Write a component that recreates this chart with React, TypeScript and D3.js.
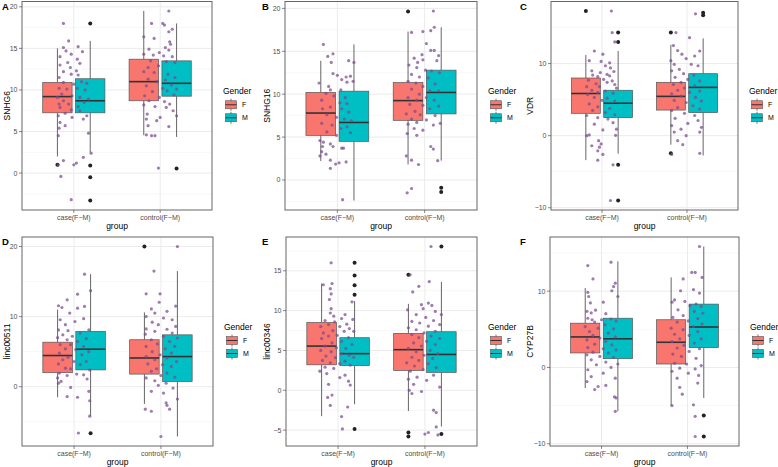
import React from "react";
import * as d3 from "d3";

const groups = ["case(F−M)", "control(F−M)"];
const genders = ["F", "M"];
const genderColors = ["#F8766D", "#00BFC4"];
const geneNames = ["SNHG6", "SNHG16", "VDR", "linc00511", "linc00346", "CYP27B"];
const panelLetters = ["A", "B", "C", "D", "E", "F"];

// major y ticks for each panel
const snhg6Ticks = [0, 5, 10, 15, 20];
const snhg16Ticks = [0, 5, 10, 15, 20];
const vdrTicks = [-10, 0, 10];
const linc00511Ticks = [0, 10, 20];
const linc00346Ticks = [-5, 0, 5, 10, 15];
const cyp27bTicks = [-10, 0, 10];

// boxes: [group, gender, lowerWhisker, q1, median, q3, upperWhisker]
const snhg6Boxes = [[0, 0, 2.0, 7.25, 9.2, 10.9, 15.0], [0, 1, 2.5, 7.25, 8.7, 11.35, 15.9], [1, 0, 4.55, 8.7, 11.0, 13.7, 19.5], [1, 1, 4.35, 9.25, 10.8, 13.5, 18.0]];
const snhg16Boxes = [[0, 0, 2.2, 5.2, 7.8, 10.2, 13.9], [0, 1, -2.4, 4.5, 6.7, 10.35, 15.8], [1, 0, 1.8, 6.95, 9.25, 11.35, 17.3], [1, 1, 2.25, 7.7, 10.2, 12.8, 17.8]];
const vdrBoxes = [[0, 0, -3.4, 3.1, 5.85, 8.0, 11.2], [0, 1, -2.5, 2.5, 4.5, 6.3, 11.75], [1, 0, -1.25, 3.55, 5.45, 7.4, 12.6], [1, 1, -2.75, 3.2, 6.7, 8.6, 13.5]];
const linc00511Boxes = [[0, 0, -1.5, 2.0, 4.45, 6.35, 11.0], [0, 1, -4.2, 2.4, 5.35, 7.9, 16.05], [1, 0, -2.45, 1.8, 4.1, 6.7, 10.6], [1, 1, -7.1, 0.75, 4.3, 7.4, 16.5]];
const linc00346Boxes = [[0, 0, -3.25, 3.2, 5.55, 8.5, 13.4], [0, 1, -1.75, 3.1, 4.6, 6.6, 11.2], [1, 0, -2.6, 2.5, 5.1, 7.15, 10.85], [1, 1, -4.55, 2.25, 4.5, 7.35, 13.6]];
const cyp27bBoxes = [[0, 0, -2.7, 1.9, 4.0, 5.8, 10.4], [0, 1, -5.75, 1.15, 3.75, 6.45, 13.9], [1, 0, -5.0, 0.45, 3.3, 6.25, 11.8], [1, 1, -4.0, 2.6, 5.3, 8.3, 15.85]];

// outliers: [group, gender, value]
const snhg6Outliers = [[0, 0, 1.0], [0, 1, 18.0], [0, 1, 0.9], [0, 1, -0.5], [0, 1, -3.3], [1, 1, 0.55]];
const snhg16Outliers = [[1, 0, 19.65], [1, 1, -0.9], [1, 1, -1.4]];
const vdrOutliers = [[0, 0, 17.3], [0, 1, 14.3], [0, 1, 13.0], [0, 1, -4.05], [0, 1, -9.0], [1, 0, 14.3], [1, 0, -2.45], [1, 1, 17.05], [1, 1, 16.7]];
const linc00511Outliers = [[0, 1, -6.65], [1, 0, 20.0]];
const linc00346Outliers = [[0, 1, 16.0], [0, 1, 14.4], [0, 1, 13.2], [0, 1, 12.0], [0, 1, -4.85], [1, 0, 14.5], [1, 0, -5.3], [1, 0, -5.8], [1, 1, 18.05], [1, 1, -5.5]];
const cyp27bOutliers = [[1, 1, -6.3], [1, 1, -9.05]];

// jittered points: [jitter offset (category units), value]
const snhg6CasePts = [[-0.12, 18.0], [-0.06, 15.9], [-0.12, 15.1], [0.05, 15.2], [-0.09, 14.7], [0.10, 14.6], [-0.03, 14.3], [-0.16, 14.0], [0.04, 13.7], [-0.07, 13.3], [0.07, 13.2], [-0.16, 13.0], [-0.04, 12.7], [0.03, 12.3], [-0.12, 12.2], [-0.03, 11.9], [0.05, 11.8], [-0.17, 11.5], [0.09, 11.0], [-0.12, 10.9], [0.0, 10.7], [0.15, 10.8], [-0.17, 10.2], [-0.08, 10.1], [0.04, 10.2], [0.13, 10.0], [-0.14, 9.5], [-0.19, 9.1], [-0.02, 9.3], [0.07, 9.1], [0.17, 8.9], [-0.12, 8.7], [-0.17, 8.3], [-0.06, 8.3], [0.12, 8.5], [0.05, 8.0], [-0.16, 7.9], [-0.03, 7.6], [-0.10, 7.2], [0.07, 7.5], [-0.18, 6.9], [0.15, 6.9], [-0.02, 6.7], [0.11, 6.5], [-0.16, 6.1], [-0.10, 5.7], [-0.17, 5.4], [-0.18, 4.5], [0.17, 4.8], [0.11, 1.9], [-0.12, 1.5], [0.03, 1.2], [-0.18, 1.0], [0.0, 1.0], [-0.15, -0.4], [-0.03, -3.2], [0.2, 2.4]];
const snhg6ControlPts = [[0.10, 19.5], [-0.10, 18.0], [0.03, 18.0], [0.05, 17.8], [0.14, 17.3], [0.10, 17.0], [-0.19, 16.4], [-0.07, 16.2], [0.11, 15.8], [0.12, 15.5], [-0.13, 14.9], [0.06, 15.1], [0.10, 14.8], [-0.01, 14.5], [-0.19, 14.3], [-0.08, 14.2], [0.04, 14.1], [0.14, 14.0], [-0.11, 13.5], [0.17, 13.3], [0.07, 13.4], [-0.14, 12.7], [-0.02, 12.9], [-0.19, 12.2], [-0.07, 12.1], [0.09, 11.9], [0.17, 11.5], [-0.14, 11.3], [0.06, 11.2], [-0.04, 11.0], [-0.16, 10.5], [0.13, 10.6], [0.03, 10.2], [0.19, 10.1], [-0.09, 9.8], [0.08, 9.9], [-0.18, 9.3], [-0.01, 9.1], [0.16, 9.4], [-0.13, 8.7], [0.05, 8.6], [0.11, 8.3], [-0.19, 8.2], [-0.06, 8.0], [0.07, 7.9], [0.15, 7.5], [-0.15, 7.1], [0.0, 6.7], [-0.04, 6.3], [-0.16, 6.5], [-0.14, 5.7], [0.10, 5.6], [-0.16, 4.6], [-0.10, 4.5], [-0.06, 4.5], [-0.02, 0.6], [0.19, 6.9]];

const snhg16CasePts = [[-0.16, 15.8], [-0.05, 14.7], [-0.11, 14.4], [-0.07, 13.7], [0.13, 13.9], [0.19, 13.7], [-0.05, 12.4], [0.0, 12.2], [0.10, 12.0], [0.15, 12.1], [0.05, 11.7], [-0.21, 11.3], [0.11, 11.4], [0.18, 11.5], [-0.10, 10.9], [-0.08, 10.5], [0.04, 10.5], [-0.13, 10.1], [-0.04, 9.8], [0.09, 9.6], [-0.18, 9.3], [0.03, 9.0], [0.11, 8.9], [-0.08, 8.5], [-0.17, 8.3], [0.05, 8.3], [0.13, 7.9], [-0.12, 7.6], [-0.01, 7.3], [0.08, 7.1], [0.16, 6.9], [-0.18, 6.6], [-0.06, 6.4], [0.11, 6.2], [0.04, 6.0], [-0.12, 5.6], [0.15, 5.5], [-0.01, 5.2], [-0.20, 4.6], [-0.16, 4.4], [-0.08, 4.2], [-0.17, 3.9], [-0.05, 3.9], [0.05, 3.7], [0.07, 3.7], [-0.18, 3.3], [-0.13, 3.0], [-0.20, 2.8], [-0.08, 2.3], [0.02, 2.0], [0.10, 2.1], [-0.02, 1.85], [-0.08, 1.35], [0.06, -2.3]];
const snhg16ControlPts = [[0.10, 19.7], [0.11, 17.8], [-0.15, 17.2], [-0.02, 17.3], [0.07, 17.4], [0.02, 15.9], [0.07, 15.1], [0.11, 15.1], [-0.03, 14.6], [-0.12, 14.2], [0.16, 14.5], [-0.08, 13.7], [-0.02, 14.0], [0.14, 13.9], [-0.18, 13.4], [-0.09, 13.1], [0.01, 12.8], [0.08, 12.7], [0.17, 12.5], [-0.15, 12.3], [-0.06, 12.0], [0.04, 11.9], [-0.19, 11.5], [-0.10, 11.3], [0.12, 11.2], [-0.02, 10.9], [-0.15, 10.6], [0.06, 10.4], [0.16, 10.4], [-0.06, 10.0], [-0.19, 9.6], [0.02, 9.6], [-0.09, 9.3], [0.11, 9.3], [-0.17, 8.8], [-0.02, 8.7], [0.16, 8.6], [0.06, 8.3], [-0.11, 8.0], [-0.21, 7.7], [-0.05, 7.6], [0.12, 7.5], [-0.15, 7.1], [0.02, 7.0], [-0.09, 6.7], [-0.19, 6.5], [0.18, 6.6], [0.10, 6.4], [-0.12, 6.0], [-0.02, 5.8], [-0.20, 5.4], [-0.09, 5.2], [0.07, 3.9], [0.10, 3.6], [-0.21, 2.8], [-0.15, 2.3], [0.15, 2.25], [-0.07, 1.8], [-0.15, -1.0], [-0.20, -1.5]];

const vdrCasePts = [[0.11, 17.3], [0.12, 14.3], [0.15, 13.0], [-0.09, 11.75], [0.01, 11.3], [-0.15, 10.4], [-0.01, 10.3], [0.09, 10.1], [0.04, 9.7], [0.10, 9.4], [-0.12, 9.0], [-0.02, 8.75], [0.14, 8.9], [-0.11, 8.4], [0.06, 8.5], [-0.05, 8.2], [0.09, 8.3], [-0.16, 7.7], [0.02, 7.8], [0.12, 7.6], [-0.07, 7.2], [0.06, 7.4], [0.15, 7.1], [-0.18, 6.8], [-0.03, 6.8], [0.17, 6.6], [-0.12, 6.3], [0.04, 6.2], [-0.05, 6.0], [0.13, 5.9], [-0.17, 5.7], [-0.09, 5.3], [0.06, 5.2], [0.0, 4.9], [0.15, 4.8], [-0.15, 4.4], [-0.05, 4.0], [0.09, 3.8], [-0.11, 3.5], [0.04, 3.2], [0.15, 2.9], [-0.18, 2.8], [-0.05, 2.5], [0.07, 2.3], [-0.09, 1.6], [0.13, 1.8], [0.17, 0.9], [0.01, 0.8], [-0.18, 0.0], [-0.15, 0.1], [0.16, 0.05], [-0.04, -0.7], [-0.01, -1.15], [-0.12, -1.4], [-0.03, -1.6], [-0.05, -2.1], [0.01, -2.6], [-0.05, -3.4], [0.13, -4.05], [0.10, -9.0]];
const vdrControlPts = [[-0.13, 14.3], [-0.16, 12.5], [0.03, 13.6], [-0.11, 11.8], [0.15, 11.75], [-0.06, 11.3], [0.09, 11.05], [-0.01, 10.7], [-0.19, 10.4], [-0.15, 9.9], [0.05, 9.9], [0.13, 9.7], [-0.09, 9.2], [-0.18, 9.0], [-0.04, 8.6], [0.08, 8.4], [-0.14, 8.1], [0.01, 7.8], [0.15, 7.6], [-0.07, 7.4], [-0.16, 7.1], [0.09, 6.9], [-0.03, 6.6], [-0.11, 6.3], [0.15, 6.2], [0.03, 6.0], [-0.18, 5.8], [-0.07, 5.5], [0.10, 5.3], [-0.15, 4.9], [0.17, 4.8], [-0.01, 4.6], [0.07, 4.15], [-0.11, 3.9], [0.15, 3.7], [-0.18, 3.5], [-0.03, 3.1], [0.09, 2.8], [-0.14, 2.4], [0.13, 2.1], [0.01, 1.7], [-0.18, 1.4], [0.17, 1.15], [-0.07, 0.9], [-0.15, 0.5], [0.15, 0.5], [-0.01, 0.0], [-0.11, -0.7], [-0.05, -1.25], [-0.18, -2.6], [0.15, -2.45], [0.10, 16.9]];

const linc00511CasePts = [[0.12, 16.05], [0.04, 13.2], [0.19, 13.7], [-0.08, 12.4], [-0.18, 11.55], [-0.14, 11.3], [0.04, 11.2], [0.12, 11.45], [-0.05, 10.5], [0.11, 9.7], [-0.16, 9.55], [0.01, 9.3], [-0.10, 8.85], [-0.18, 8.1], [-0.07, 8.0], [0.17, 8.1], [0.07, 7.65], [-0.13, 7.4], [-0.02, 7.2], [-0.19, 7.0], [0.14, 6.85], [-0.08, 6.7], [0.04, 6.45], [-0.16, 6.0], [-0.04, 6.0], [0.11, 5.75], [-0.10, 5.4], [0.02, 5.3], [0.17, 5.0], [-0.17, 4.8], [0.09, 4.55], [-0.07, 4.2], [-0.13, 3.85], [0.0, 3.6], [0.14, 3.6], [-0.18, 3.25], [0.07, 3.15], [-0.10, 2.65], [-0.04, 2.55], [0.18, 2.4], [-0.17, 1.95], [0.03, 1.8], [0.11, 1.7], [-0.08, 1.6], [-0.19, 1.25], [0.15, 1.1], [-0.15, 0.75], [-0.18, 0.5], [-0.04, -0.1], [0.17, -0.65], [-0.08, -1.4], [0.04, -1.5], [0.18, -2.0], [0.18, -4.2], [0.05, -6.6]];
const linc00511ControlPts = [[0.19, 20.0], [-0.08, 16.5], [-0.17, 13.25], [-0.01, 13.25], [0.17, 11.5], [-0.02, 12.05], [-0.11, 11.1], [0.07, 10.75], [-0.07, 10.5], [-0.17, 10.0], [0.03, 9.8], [0.13, 9.55], [-0.10, 9.2], [-0.03, 8.85], [0.17, 8.6], [-0.17, 8.25], [0.07, 8.2], [-0.07, 7.9], [0.13, 7.65], [-0.18, 7.5], [0.03, 7.2], [0.19, 6.95], [-0.11, 6.7], [0.10, 6.45], [-0.04, 6.1], [-0.17, 5.75], [0.16, 5.75], [0.05, 5.4], [-0.10, 5.0], [0.12, 4.8], [-0.01, 4.55], [-0.17, 4.3], [0.07, 4.1], [-0.07, 3.85], [0.18, 3.6], [-0.15, 3.25], [0.02, 3.15], [0.12, 2.9], [-0.05, 2.55], [-0.11, 2.2], [0.07, 1.95], [0.0, 1.6], [0.16, 1.35], [-0.17, 1.25], [-0.07, 0.85], [0.06, 0.5], [-0.03, 0.2], [0.14, -0.2], [-0.11, -0.65], [0.03, -0.9], [0.19, -1.75], [0.06, -2.3], [0.07, -2.65], [-0.18, -3.2], [-0.11, -3.5], [0.10, -3.2], [0.0, -7.1]];

const linc00346CasePts = [[-0.08, 16.0], [-0.07, 13.4], [-0.17, 13.25], [-0.09, 12.75], [-0.08, 12.1], [-0.10, 11.4], [-0.08, 10.25], [0.16, 11.1], [-0.09, 9.7], [0.08, 9.5], [-0.05, 9.3], [0.04, 9.0], [0.17, 8.9], [-0.15, 8.75], [-0.04, 8.6], [0.10, 8.3], [-0.11, 8.25], [0.02, 8.0], [-0.20, 8.0], [0.13, 7.75], [-0.06, 7.5], [0.07, 7.4], [-0.17, 7.2], [0.18, 7.4], [-0.01, 6.9], [-0.11, 6.8], [0.12, 6.6], [-0.19, 6.5], [0.04, 6.15], [-0.07, 5.95], [0.16, 5.75], [-0.15, 5.55], [-0.02, 5.35], [0.09, 5.25], [-0.20, 5.0], [-0.08, 4.85], [0.04, 4.6], [0.13, 4.4], [-0.14, 4.3], [-0.03, 4.1], [0.18, 4.15], [-0.18, 3.75], [0.08, 3.65], [-0.09, 3.45], [0.02, 3.35], [0.14, 3.15], [-0.15, 2.9], [-0.05, 2.75], [-0.21, 2.4], [-0.13, 2.1], [0.08, 1.9], [0.02, 1.6], [0.12, 1.15], [0.14, 0.65], [-0.11, 0.75], [-0.07, -0.6], [-0.12, -0.9], [-0.09, -1.9], [0.11, -2.1], [0.04, -3.3], [0.05, -4.85]];
const linc00346ControlPts = [[0.07, 18.05], [-0.17, 14.5], [0.05, 13.65], [-0.07, 13.05], [-0.14, 12.35], [0.04, 10.95], [-0.04, 10.75], [0.08, 10.65], [-0.20, 10.1], [-0.02, 10.25], [0.12, 9.9], [-0.10, 9.5], [0.19, 9.5], [0.01, 9.15], [-0.15, 8.65], [0.10, 8.75], [-0.06, 8.45], [0.17, 8.25], [0.04, 8.05], [-0.19, 7.85], [-0.10, 7.6], [0.12, 7.4], [-0.01, 7.2], [-0.15, 7.0], [0.07, 6.8], [-0.07, 6.6], [0.17, 6.5], [0.02, 6.15], [-0.13, 5.95], [0.12, 5.75], [-0.04, 5.55], [-0.19, 5.25], [0.06, 5.0], [-0.10, 4.85], [0.15, 4.6], [-0.01, 4.4], [-0.15, 4.15], [0.09, 4.0], [-0.07, 3.75], [-0.21, 3.45], [0.04, 3.35], [-0.12, 3.05], [0.13, 2.85], [-0.02, 2.6], [-0.17, 2.4], [0.10, 1.9], [-0.09, 1.65], [-0.19, 1.4], [0.02, 1.25], [-0.13, 0.75], [0.17, 0.4], [-0.18, 0.0], [-0.04, -0.15], [-0.15, -0.4], [0.10, -2.5], [0.13, -2.8], [0.13, -4.6], [0.04, -5.3], [0.0, -5.5], [0.15, -5.6]];

const cyp27bCasePts = [[-0.16, 13.35], [0.11, 13.8], [-0.10, 11.6], [0.16, 11.05], [0.14, 10.6], [0.12, 10.05], [-0.16, 9.85], [-0.15, 9.3], [0.19, 9.3], [-0.13, 8.45], [0.02, 8.55], [-0.17, 7.35], [-0.07, 7.5], [-0.12, 7.15], [0.05, 7.05], [-0.16, 6.45], [-0.11, 6.25], [0.0, 6.25], [0.11, 6.35], [0.17, 6.1], [-0.08, 5.95], [0.04, 5.6], [-0.19, 5.35], [-0.04, 5.15], [0.14, 5.05], [-0.14, 4.7], [0.08, 4.5], [-0.10, 4.2], [0.16, 4.0], [-0.02, 3.85], [-0.17, 3.6], [0.05, 3.4], [-0.08, 3.05], [0.12, 2.95], [-0.16, 2.6], [0.02, 2.45], [0.17, 2.3], [-0.10, 2.0], [0.08, 1.9], [-0.17, 1.65], [-0.02, 1.45], [0.14, 1.3], [-0.12, 1.0], [0.05, 0.7], [0.19, 0.45], [-0.06, 0.35], [0.11, 0.0], [-0.16, -0.3], [0.02, -0.75], [-0.12, -1.2], [0.16, -1.4], [-0.17, -1.85], [0.05, -2.35], [-0.04, -2.5], [-0.08, -2.9], [0.15, -3.85], [0.17, -4.0], [0.16, -5.75]];
const cyp27bControlPts = [[0.14, 15.85], [0.05, 12.45], [0.09, 12.45], [-0.05, 11.6], [0.17, 11.8], [-0.08, 10.05], [0.07, 10.2], [0.14, 9.75], [-0.15, 8.85], [-0.03, 8.65], [0.10, 8.3], [-0.18, 8.55], [0.03, 8.1], [0.16, 8.0], [-0.11, 7.55], [0.08, 7.35], [0.18, 7.1], [-0.05, 6.8], [-0.17, 6.55], [0.12, 6.4], [0.01, 6.1], [-0.12, 5.95], [0.17, 5.7], [0.07, 5.35], [-0.19, 5.15], [-0.05, 4.95], [0.12, 4.7], [-0.15, 4.35], [0.02, 4.2], [-0.09, 3.75], [0.16, 3.75], [-0.18, 3.4], [0.08, 3.2], [-0.04, 2.9], [-0.12, 2.55], [0.14, 2.45], [0.02, 2.1], [-0.17, 1.75], [-0.07, 1.45], [0.10, 1.2], [-0.15, 0.55], [-0.01, 0.45], [0.16, 0.25], [-0.09, -0.1], [0.09, -0.2], [-0.18, -0.5], [0.01, -0.75], [0.13, -1.05], [-0.12, -1.4], [0.12, -2.05], [-0.09, -2.6], [-0.06, -3.5], [0.07, -4.9], [0.09, -6.4], [0.09, -9.05], [-0.18, -5.0]];

const boxesList = [snhg6Boxes, snhg16Boxes, vdrBoxes, linc00511Boxes, linc00346Boxes, cyp27bBoxes];
const outliersList = [snhg6Outliers, snhg16Outliers, vdrOutliers, linc00511Outliers, linc00346Outliers, cyp27bOutliers];
const pointsList = [
  [snhg6CasePts, snhg6ControlPts],
  [snhg16CasePts, snhg16ControlPts],
  [vdrCasePts, vdrControlPts],
  [linc00511CasePts, linc00511ControlPts],
  [linc00346CasePts, linc00346ControlPts],
  [cyp27bCasePts, cyp27bControlPts],
];
const ticksList = [snhg6Ticks, snhg16Ticks, vdrTicks, linc00511Ticks, linc00346Ticks, cyp27bTicks];

// layout (pixels)
const layout = [
  { x0: 0, titleX: 7, left: 22, right: 212, top: 1.5, bottom: 210 },
  { x0: 260, titleX: 267, left: 285, right: 477, top: 1.5, bottom: 210 },
  { x0: 518, titleX: 530, left: 551, right: 738, top: 1.5, bottom: 210 },
  { x0: 0, titleX: 7, left: 22, right: 213, top: 237, bottom: 446 },
  { x0: 260, titleX: 267, left: 286, right: 477, top: 237, bottom: 446 },
  { x0: 518, titleX: 530, left: 550, right: 739, top: 237, bottom: 446 },
];

const FONT = "'Liberation Sans', Arial, Helvetica, sans-serif";
const dodge = 0.19;
const boxW = 0.34;
const fmt = d3.format("d");

function Panel({ idx }: { idx: number }) {
  const L = layout[idx];
  const boxes = boxesList[idx];
  const outs = outliersList[idx];
  const pts = pointsList[idx];
  const ticks = ticksList[idx];

  const allVals: number[] = [];
  boxes.forEach((b) => { allVals.push(b[2], b[6]); });
  outs.forEach((o) => allVals.push(o[2]));
  pts.forEach((g) => g.forEach((p) => allVals.push(p[1])));
  const [mn, mx] = d3.extent(allVals) as [number, number];
  const pad = (mx - mn) * 0.05;
  const y = d3.scaleLinear().domain([mn - pad, mx + pad]).range([L.bottom, L.top]);
  const x = d3.scaleLinear().domain([0.4, 2.6]).range([L.left, L.right]);
  const unit = x(2) - x(1);
  const gx = (g: number) => x(g + 1);

  const step = ticks[1] - ticks[0];
  const minor: number[] = [];
  for (let t = ticks[0] - step / 2; t <= mx + pad; t += step) {
    if (t >= mn - pad) minor.push(t);
  }

  const midY = (L.top + L.bottom) / 2;
  const legX = L.right + 11;
  const legTitleY = midY - 15;

  return (
    <g>
      <rect x={L.left} y={L.top} width={L.right - L.left} height={L.bottom - L.top} fill="#fff" />
      {minor.map((t) => (
        <line key={"mi" + t} x1={L.left} x2={L.right} y1={y(t)} y2={y(t)} stroke="#F2F2F2" strokeWidth={0.6} />
      ))}
      {ticks.map((t) => (
        <line key={"ma" + t} x1={L.left} x2={L.right} y1={y(t)} y2={y(t)} stroke="#EBEBEB" strokeWidth={1} />
      ))}
      {groups.map((g, i) => (
        <line key={"vg" + i} x1={gx(i)} x2={gx(i)} y1={L.top} y2={L.bottom} stroke="#EBEBEB" strokeWidth={1} />
      ))}
      {boxes.map((b, i) => {
        const cx = gx(b[0]) + (b[1] === 0 ? -dodge : dodge) * unit;
        const w = boxW * unit;
        return (
          <g key={"b" + i}>
            <line x1={cx} x2={cx} y1={y(b[6])} y2={y(b[5])} stroke="#555" strokeWidth={0.9} />
            <line x1={cx} x2={cx} y1={y(b[3])} y2={y(b[2])} stroke="#555" strokeWidth={0.9} />
            <rect x={cx - w / 2} y={y(b[5])} width={w} height={y(b[3]) - y(b[5])} fill={genderColors[b[1]]} stroke="#555" strokeWidth={0.7} />
            <line x1={cx - w / 2} x2={cx + w / 2} y1={y(b[4])} y2={y(b[4])} stroke="#333" strokeWidth={1.6} />
          </g>
        );
      })}
      {outs.map((o, i) => {
        const cx = gx(o[0]) + (o[1] === 0 ? -dodge : dodge) * unit;
        return <circle key={"o" + i} cx={cx} cy={y(o[2])} r={2} fill="#222" />;
      })}
      {pts.map((grp, gi) =>
        grp.map((p, i) => (
          <circle key={"p" + gi + "_" + i} cx={gx(gi) + p[0] * unit} cy={y(p[1])} r={1.6} fill="#7A4A90" fillOpacity={0.72} />
        ))
      )}
      <rect x={L.left} y={L.top} width={L.right - L.left} height={L.bottom - L.top} fill="none" stroke="#666" strokeWidth={1} />
      {ticks.map((t) => (
        <g key={"yt" + t}>
          <line x1={L.left - 3} x2={L.left} y1={y(t)} y2={y(t)} stroke="#555" strokeWidth={0.7} />
          <text x={L.left - 4.5} y={y(t)} dy="0.35em" textAnchor="end" fontSize={7} fill="#4D4D4D" fontFamily={FONT}>{fmt(t)}</text>
        </g>
      ))}
      {groups.map((g, i) => (
        <g key={"xt" + i}>
          <line x1={gx(i)} x2={gx(i)} y1={L.bottom} y2={L.bottom + 3} stroke="#555" strokeWidth={0.7} />
          <text x={gx(i)} y={L.bottom + 9.5} textAnchor="middle" fontSize={7} fill="#4D4D4D" fontFamily={FONT}>{g}</text>
        </g>
      ))}
      <text x={(L.left + L.right) / 2} y={L.bottom + 19} textAnchor="middle" fontSize={8.5} fill="#000" fontFamily={FONT}>group</text>
      <text transform={`translate(${L.titleX + 3},${midY}) rotate(-90)`} textAnchor="middle" fontSize={8.5} fill="#000" fontFamily={FONT}>{geneNames[idx]}</text>
      <text x={L.x0 + 2} y={L.top + 8} fontSize={9.5} fontWeight="bold" fill="#000" fontFamily={FONT}>{panelLetters[idx]}</text>
      <text x={legX} y={legTitleY + 3} fontSize={8.5} fill="#000" fontFamily={FONT}>Gender</text>
      {genders.map((gname, i) => {
        const ky = legTitleY + 8 + i * 13;
        return (
          <g key={"lg" + i}>
            <line x1={legX + 8} x2={legX + 8} y1={ky} y2={ky + 12} stroke="#555" strokeWidth={0.8} />
            <rect x={legX + 2.5} y={ky + 2} width={11} height={8} fill={genderColors[i]} stroke="#555" strokeWidth={0.6} />
            <line x1={legX + 2.5} x2={legX + 13.5} y1={ky + 6} y2={ky + 6} stroke="#333" strokeWidth={1} />
            <text x={legX + 19} y={ky + 6} dy="0.35em" fontSize={7} fill="#000" fontFamily={FONT}>{gname}</text>
          </g>
        );
      })}
    </g>
  );
}

export default function App() {
  return (
    <svg width={778} height={467} style={{ position: "absolute", left: 0, top: 0, background: "#fff" }}>
      <rect x={0} y={0} width={778} height={467} fill="#fff" />
      {layout.map((_, i) => (
        <Panel key={i} idx={i} />
      ))}
    </svg>
  );
}
